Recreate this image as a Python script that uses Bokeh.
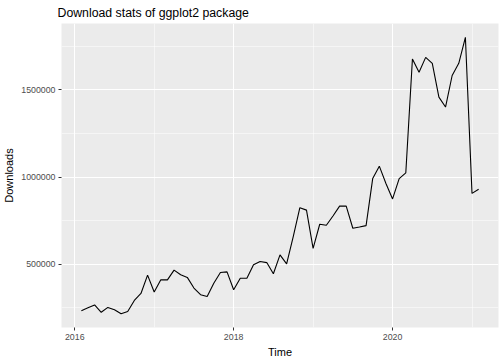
from bokeh.plotting import figure
from bokeh.models import FixedTicker, BasicTickFormatter, Range1d
from bokeh.embed import file_html
from bokeh.resources import INLINE

start_year = 2016
start_month = 2
downloads = [234000, 251000, 267000, 225000, 253000, 240000, 217000, 230000, 293000, 333000,
             438000, 341000, 411000, 411000, 467000, 440000, 425000, 364000, 326000, 316000,
             392000, 453000, 457000, 354000, 420000, 420000, 497000, 516000, 510000, 446000,
             554000, 503000, 659000, 825000, 811000, 592000, 730000, 724000, 777000, 834000,
             834000, 707000, 714000, 722000, 992000, 1063000, 964000, 875000, 992000, 1025000,
             1678000, 1602000, 1687000, 1653000, 1459000, 1402000, 1583000, 1653000, 1802000,
             907000, 931000]
x_ticks = [2016, 2018, 2020]
x_minor = [2017, 2019, 2021]
y_ticks = [500000, 1000000, 1500000]
y_minor = [250000, 750000, 1250000, 1750000]

time = [start_year + (start_month - 1 + i) / 12 for i in range(len(downloads))]

xs = max(time) - min(time)
ys = max(downloads) - min(downloads)
x0, x1 = min(time) - 0.05 * xs, max(time) + 0.05 * xs
y0, y1 = min(downloads) - 0.05 * ys, max(downloads) + 0.05 * ys

p = figure(width=504, height=360, output_backend="svg", toolbar_location=None,
           x_range=Range1d(x0, x1), y_range=Range1d(y0, y1),
           min_border_left=0, min_border_right=6, min_border_top=4, min_border_bottom=33)

p.title.text = "Download stats of ggplot2 package"
p.title.text_font = "Liberation Sans"
p.title.text_font_size = "12.3px"
p.title.text_font_style = "normal"
p.title.text_color = "black"
p.title.offset = -4
p.title.standoff = 7

p.background_fill_color = "#EBEBEB"
p.border_fill_color = "white"
p.outline_line_color = None

p.line(time, downloads, line_color="black", line_width=1.1)

p.xaxis.ticker = FixedTicker(ticks=x_ticks, minor_ticks=x_minor)
p.yaxis.ticker = FixedTicker(ticks=y_ticks, minor_ticks=y_minor)
p.yaxis.formatter = BasicTickFormatter(use_scientific=False)
p.xaxis.axis_label = "Time"
p.yaxis.axis_label = "Downloads"

for ax in (p.xaxis, p.yaxis):
    ax.axis_line_color = None
    ax.major_tick_line_color = "#333333"
    ax.major_tick_in = 0
    ax.major_tick_out = 3
    ax.minor_tick_line_color = None
    ax.major_label_text_font = "Liberation Sans"
    ax.major_label_text_font_size = "8.8px"
    ax.major_label_text_color = "#4D4D4D"
    ax.major_label_standoff = 2
    ax.axis_label_text_font = "Liberation Sans"
    ax.axis_label_text_font_size = "11px"
    ax.axis_label_text_font_style = "normal"
    ax.axis_label_text_color = "black"
    ax.axis_label_standoff = 3

for g in (p.xgrid, p.ygrid):
    g.grid_line_color = "white"
    g.grid_line_width = 1.1
    g.minor_grid_line_color = "white"
    g.minor_grid_line_width = 0.5

open("out.html", "w").write(file_html(p, INLINE))
